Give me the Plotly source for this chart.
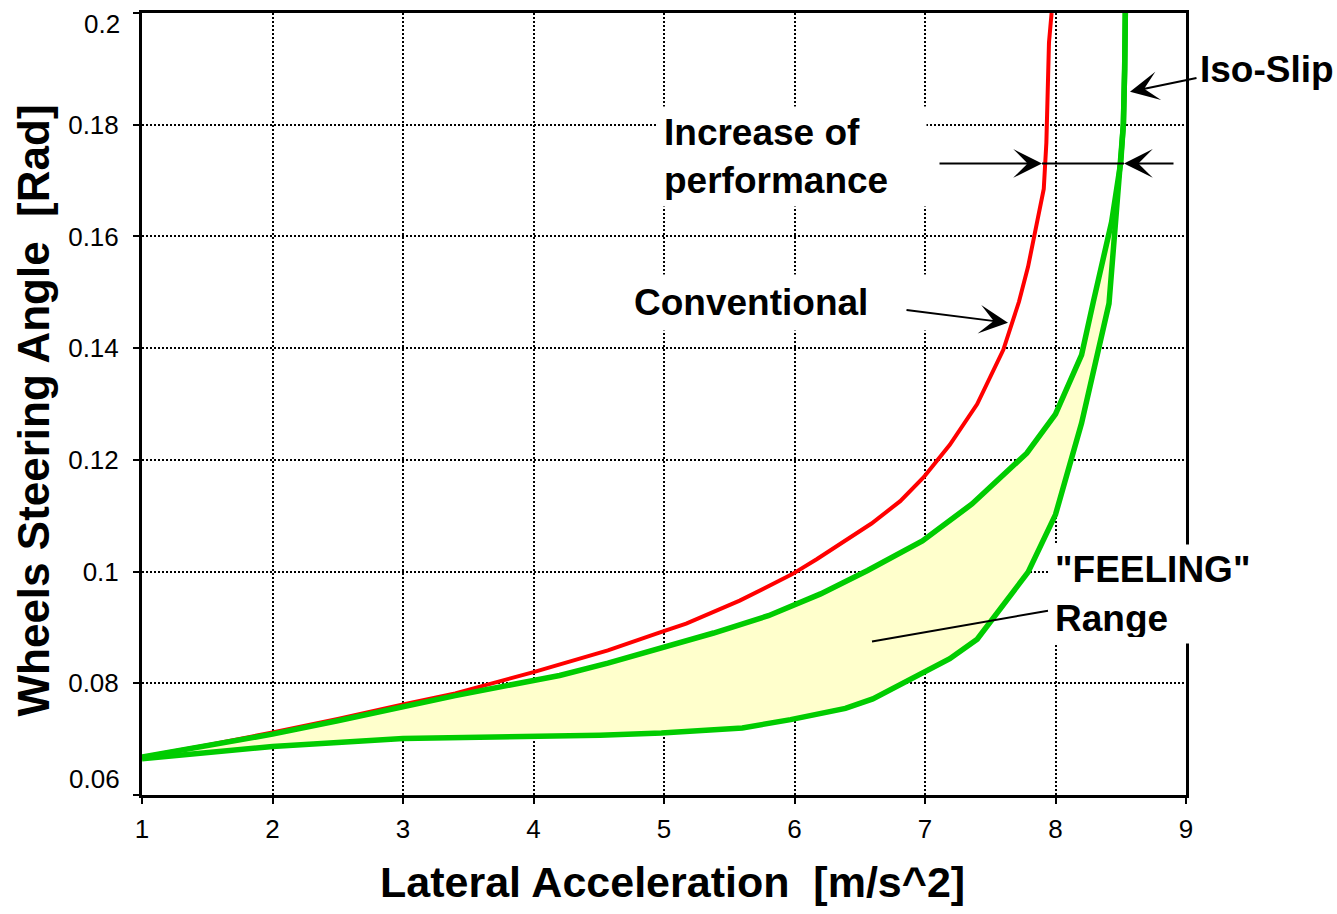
import plotly.graph_objects as go

# ---------------- data ----------------
conv_x = [1.0, 1.5, 2.0, 2.5, 3.0, 3.4, 4.0, 4.23, 4.57, 4.97, 5.17, 5.58, 5.98, 6.17, 6.59,
          6.81, 6.99, 7.19, 7.40, 7.60, 7.72, 7.79, 7.855, 7.91, 7.93, 7.95, 7.97]
conv_y = [0.0668, 0.0689, 0.0712, 0.0736, 0.0762, 0.0782, 0.0820, 0.0836, 0.0859, 0.0891, 0.0907,
          0.0948, 0.0995, 0.1022, 0.1086, 0.1126, 0.1169, 0.1227, 0.1300, 0.1397, 0.1483, 0.1546,
          0.1626, 0.1685, 0.1768, 0.1947, 0.2000]

upper_x = [1.0, 1.5, 2.0, 2.5, 3.0, 3.4, 4.0, 4.2, 4.57, 4.97, 5.38, 5.80, 6.20, 6.56, 6.98,
           7.36, 7.57, 7.78, 8.0, 8.20, 8.29, 8.43, 8.50, 8.52, 8.53, 8.535]
upper_y = [0.0668, 0.0688, 0.0709, 0.0733, 0.0759, 0.0778, 0.0805, 0.0814, 0.0836, 0.0862, 0.0890,
           0.0921, 0.0960, 0.1002, 0.1055, 0.1121, 0.1166, 0.1212, 0.1282, 0.1388, 0.1483, 0.1626,
           0.1733, 0.1800, 0.1900, 0.2000]

lower_x = [1.0, 1.5, 2.0, 3.0, 4.0, 4.51, 4.98, 5.60, 5.97, 6.39, 6.60, 6.83, 6.98, 7.19, 7.40,
           7.57, 7.79, 8.0, 8.20, 8.41, 8.46, 8.50, 8.52, 8.53, 8.535]
lower_y = [0.0665, 0.0677, 0.0687, 0.0701, 0.0704, 0.0707, 0.0711, 0.0720, 0.0735, 0.0755, 0.0772,
           0.0799, 0.0818, 0.0844, 0.0879, 0.0930, 0.0999, 0.1102, 0.1266, 0.1480, 0.1626, 0.1733,
           0.1800, 0.1900, 0.2000]

y_tick_vals = [0.06, 0.08, 0.10, 0.12, 0.14, 0.16, 0.18, 0.20]
y_tick_text = ["0.06", "0.08", "0.1", "0.12", "0.14", "0.16", "0.18", "0.2"]
x_tick_vals = [1, 2, 3, 4, 5, 6, 7, 8, 9]
x_tick_text = ["1", "2", "3", "4", "5", "6", "7", "8", "9"]

x_title = "Lateral Acceleration\u00a0\u00a0[m/s^2]"
y_title = "Wheels Steering Angle\u00a0\u00a0[Rad]"

# ---------------- layout geometry ----------------
W, H = 1337, 914
L, R, T, B = 142, 1186, 10, 795  # plot area in pixels


def px(xp):
    return (xp - L) / (R - L)


def py(yp):
    return (B - yp) / (B - T)


FONT = "Liberation Sans, Arial, sans-serif"
RED = "#FF0000"
GREEN = "#00CC00"
TICK_SIZE = 26

fig = go.Figure()

# feeling range fill
fig.add_trace(go.Scatter(
    x=upper_x + lower_x[::-1], y=upper_y + lower_y[::-1],
    mode="lines", fill="toself", fillcolor="#FFFFCC",
    line=dict(width=0, color="rgba(0,0,0,0)"), hoverinfo="skip", showlegend=False))

fig.add_trace(go.Scatter(x=conv_x, y=conv_y, mode="lines",
                         line=dict(color=RED, width=4), showlegend=False, name="Conventional"))
fig.add_trace(go.Scatter(x=lower_x, y=lower_y, mode="lines",
                         line=dict(color=GREEN, width=5.5), showlegend=False, name="Lower"))
fig.add_trace(go.Scatter(x=upper_x, y=upper_y, mode="lines",
                         line=dict(color=GREEN, width=5.5), showlegend=False, name="Upper"))

axis_common = dict(
    showline=True, linecolor="black", linewidth=3, mirror=True,
    showgrid=True, gridcolor="black", gridwidth=2, griddash="2px,2px",
    zeroline=False, ticks="outside", ticklen=6, tickwidth=2, tickcolor="black",
    tickfont=dict(family=FONT, size=TICK_SIZE, color="black"),
)

# edge labels of the y axis are drawn shifted inwards (as in the reference), so blank them here
y_axis_text = [("" if i in (0, len(y_tick_text) - 1) else t) for i, t in enumerate(y_tick_text)]

fig.update_xaxes(range=[1, 9], tickmode="array", tickvals=x_tick_vals, ticktext=x_tick_text,
                 ticklabelstandoff=3, **axis_common)
fig.update_yaxes(range=[0.06, 0.2], tickmode="array", tickvals=y_tick_vals, ticktext=y_axis_text,
                 ticklabelstandoff=9, **axis_common)

ann = []
bold = dict(family=FONT, size=37, color="black")
tickfont = dict(family=FONT, size=TICK_SIZE, color="black")

# shifted edge y labels
ann.append(dict(xref="paper", yref="paper", x=px(121), y=py(779), xanchor="right", yanchor="middle",
                text=y_tick_text[0], showarrow=False, font=tickfont, borderpad=0))
ann.append(dict(xref="paper", yref="paper", x=px(121), y=py(21), xanchor="right", yanchor="middle",
                text=y_tick_text[-1], showarrow=False, font=tickfont, borderpad=0))

# axis titles
ann.append(dict(xref="paper", yref="paper", x=px(672.5), y=py(882.5), text="<b>" + x_title + "</b>",
                showarrow=False, xanchor="center", yanchor="middle",
                font=dict(family=FONT, size=43, color="black")))
ann.append(dict(xref="paper", yref="paper", x=px(33), y=py(409), text="<b>" + y_title + "</b>",
                textangle=-90, showarrow=False, xanchor="center", yanchor="middle",
                font=dict(family=FONT, size=44, color="black")))

# labels with white boxes
ann.append(dict(xref="paper", yref="paper", x=px(657), y=py(103), xanchor="left", yanchor="top",
                text="<b>Increase of<br>performance</b>", showarrow=False, align="left",
                width=256, height=87, borderpad=6, bgcolor="white", font=bold))
ann.append(dict(xref="paper", yref="paper", x=px(627), y=py(272), xanchor="left", yanchor="top",
                text="<b>Conventional</b>", showarrow=False, align="left",
                width=293, height=43, borderpad=6, bgcolor="white", font=bold))
ann.append(dict(xref="paper", yref="paper", x=px(1048), y=py(543), xanchor="left", yanchor="top",
                text='<b>"FEELING"<br>Range</b>', showarrow=False, align="left",
                width=210, height=86, borderpad=6, bgcolor="white", font=bold))
ann.append(dict(xref="paper", yref="paper", x=px(1198), y=py(67), xanchor="left", yanchor="middle",
                text="<b>Iso-Slip</b>", showarrow=False, align="left", font=bold))

# arrows
arrow_style = dict(xref="paper", yref="paper", axref="pixel", ayref="pixel", text="",
                   showarrow=True, arrowhead=3, arrowsize=2.4, arrowwidth=2,
                   arrowcolor="black", standoff=0)
for (hx, hy, tx, ty) in [(1008, 321, 905, 308), (1130, 89, 1198, 75),
                         (1042, 161, 938, 161), (1124, 161, 1175, 161)]:
    ann.append(dict(x=px(hx), y=py(hy), ax=tx - hx, ay=ty - hy, **arrow_style))

shapes = [
    dict(type="line", xref="paper", yref="paper", x0=px(1042), y0=py(161), x1=px(1124), y1=py(161),
         line=dict(color="black", width=2)),
    dict(type="line", xref="paper", yref="paper", x0=px(872), y0=py(641), x1=px(1048), y1=py(610),
         line=dict(color="black", width=2)),
]

fig.update_layout(
    width=W, height=H,
    margin=dict(l=L, r=W - R, t=T, b=H - B, pad=0),
    paper_bgcolor="white", plot_bgcolor="white",
    font=dict(family=FONT, color="black"),
    showlegend=False,
    annotations=ann, shapes=shapes,
)

fig.write_html("out.html", config={"displayModeBar": False},
               post_script="document.body.style.margin='0';document.body.style.overflow='hidden';")
